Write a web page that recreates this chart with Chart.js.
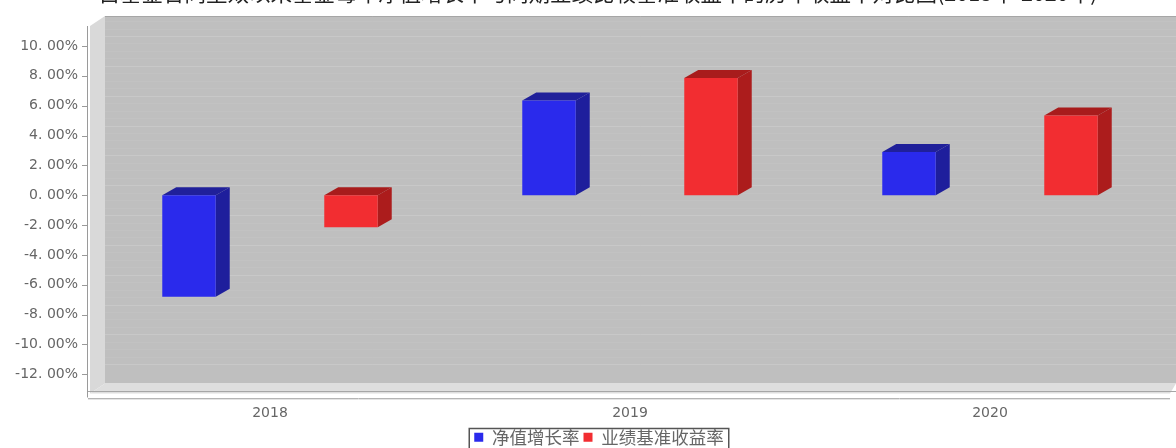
<!DOCTYPE html>
<html>
<head>
<meta charset="utf-8">
<style>
  html, body { margin: 0; padding: 0; background: #fff; overflow: hidden; }
</style>
</head>
<body>
<canvas id="growthChart" width="1176" height="448"></canvas>
<script src="https://cdn.jsdelivr.net/npm/chart.js@4/dist/chart.umd.min.js"></script>
<script>
const chartTitle = '自基金合同生效以来基金每年净值增长率与同期业绩比较基准收益率的历年收益率对比图(2018年-2020年)';
const years = ['2018', '2019', '2020'];
const navGrowth = [-6.8, 6.35, 2.9];
const benchmarkReturn = [-2.15, 7.85, 5.35];
const yTicks = [10, 8, 6, 4, 2, 0, -2, -4, -6, -8, -10, -12];

// depth of the fake 3D walls and of the bars
const wallDx = 15, wallDy = 10;
const barDx = 14, barDy = 8;

const sideColors = ['#1e1e9c', '#ac1c1c'];
const topColors = ['#20209a', '#a81c1c'];

function poly(ctx, pts, color) {
    ctx.fillStyle = color;
    ctx.beginPath();
    pts.forEach((p, i) => i ? ctx.lineTo(p[0], p[1]) : ctx.moveTo(p[0], p[1]));
    ctx.closePath();
    ctx.fill();
}

function hline(ctx, x1, x2, y, color) {
    ctx.strokeStyle = color;
    ctx.lineWidth = 1;
    ctx.beginPath();
    ctx.moveTo(x1, Math.round(y) + 0.5);
    ctx.lineTo(x2, Math.round(y) + 0.5);
    ctx.stroke();
}

const walls3d = {
    id: 'walls3d',
    afterLayout(chart) {
        // legend sits a little right of the canvas centre
        const lg = chart.legend;
        lg.left += 14;
        lg.right += 14;
        lg.legendHitBoxes.forEach(h => { h.left += 14; });
    },
    beforeDatasetsDraw(chart) {
        const { ctx, chartArea: a, scales } = chart;
        const y = scales.y;
        const backL = a.left + wallDx, backT = a.top - wallDy, backB = a.bottom - wallDy;
        ctx.save();
        // title, its upper part is cut by the page edge
        ctx.fillStyle = '#222';
        ctx.font = '21.5px "Noto Sans CJK SC"';
        ctx.textAlign = 'center';
        ctx.textBaseline = 'alphabetic';
        ctx.fillText(chartTitle, 598, 1);

        // walls
        poly(ctx, [[backL, backT], [1176, backT], [1176, backB], [backL, backB]], '#bfbfbf');
        poly(ctx, [[a.left, a.top], [backL, backT], [backL, backB], [a.left, a.bottom]], '#d9d9d9');
        poly(ctx, [[a.left, a.bottom], [backL, backB], [1176, backB], [a.right, a.bottom]], '#dedede');
        hline(ctx, backL, 1176, backT, '#a6a6a6');

        // minor and major lines on the back wall
        for (let v = -12; v <= 11; v += 0.5) {
            const major = v % 2 === 0;
            hline(ctx, backL, 1176, y.getPixelForValue(v) - wallDy, major ? '#c8c8c8' : '#c2c2c2');
        }

        // axis lines and tick marks
        ctx.strokeStyle = '#9a9a9a';
        ctx.lineWidth = 1;
        ctx.beginPath();
        ctx.moveTo(a.left - 2.5, a.top);
        ctx.lineTo(a.left - 2.5, a.bottom + 4);
        ctx.stroke();
        yTicks.forEach(v => hline(ctx, a.left - 8, a.left - 3, y.getPixelForValue(v), '#9a9a9a'));
        hline(ctx, a.left - 2, 1176, a.bottom - 3, '#a6a6a6');
        hline(ctx, a.left - 2, 1170, a.bottom + 4, '#b4b4b4');
        hline(ctx, a.left - 2, 1170, a.bottom + 5, '#e4e4e4');

        // side and top faces of the bars
        chart.data.datasets.forEach((ds, i) => {
            chart.getDatasetMeta(i).data.forEach(bar => {
                const p = bar.getProps(['x', 'y', 'base', 'width'], true);
                const l = p.x - p.width / 2, r = p.x + p.width / 2;
                const t = Math.min(p.y, p.base), b = Math.max(p.y, p.base);
                poly(ctx, [[r, t], [r + barDx, t - barDy], [r + barDx, b - barDy], [r, b]], sideColors[i]);
                poly(ctx, [[l, t], [l + barDx, t - barDy], [r + barDx, t - barDy], [r, t]], topColors[i]);
            });
        });
        ctx.restore();
    },
    afterDraw(chart) {
        // frame around the legend
        const { ctx } = chart;
        const hb = chart.legend.legendHitBoxes;
        const last = hb[hb.length - 1];
        ctx.save();
        ctx.strokeStyle = '#555';
        ctx.lineWidth = 1.5;
        ctx.strokeRect(hb[0].left - 5, 428.5, last.left + last.width - hb[0].left + 10, 30);
        ctx.restore();
    }
};

new Chart(document.getElementById('growthChart').getContext('2d'), {
    type: 'bar',
    data: {
        labels: years,
        datasets: [
            { label: '净值增长率', data: navGrowth, backgroundColor: '#2a2aec' },
            { label: '业绩基准收益率', data: benchmarkReturn, backgroundColor: '#f22d31' }
        ]
    },
    plugins: [walls3d],
    options: {
        responsive: false,
        animation: false,
        layout: { padding: { top: 26, right: 6, bottom: -8, left: 0 } },
        plugins: {
            title: { display: false },
            tooltip: { enabled: false },
            legend: {
                position: 'bottom',
                labels: {
                    boxWidth: 9,
                    boxHeight: 9,
                    padding: 4,
                    color: '#666',
                    font: { family: '"Noto Sans CJK SC"', size: 17.5 }
                }
            }
        },
        datasets: { bar: { categoryPercentage: 0.9, barPercentage: 0.33 } },
        scales: {
            x: {
                grid: { display: false },
                border: { display: false },
                afterFit(scale) { scale.height = 31; },
                ticks: {
                    padding: 3,
                    color: '#666',
                    font: { family: '"DejaVu Sans"', size: 14 }
                }
            },
            y: {
                min: -13.29,
                max: 11.34,
                grid: { display: false },
                border: { display: false },
                afterFit(scale) { scale.width = 90; },
                afterBuildTicks(scale) { scale.ticks = yTicks.map(v => ({ value: v })); },
                ticks: {
                    padding: 4,
                    color: '#666',
                    font: { family: '"DejaVu Sans"', size: 14 },
                    callback: v => v.toFixed(2).replace('.', '. ') + '%'
                }
            }
        }
    }
});
</script>
</body>
</html>
